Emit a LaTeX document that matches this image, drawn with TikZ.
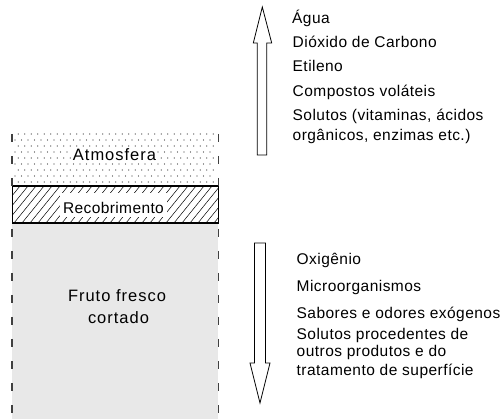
\documentclass[tikz,border=0pt]{standalone}
\usepackage{fontspec}
\setmainfont{Liberation Sans}
\begin{document}
\begin{tikzpicture}[x=1pt,y=-1pt,
  txt/.style={font=\fontsize{15.5}{18}\selectfont\addfontfeature{LetterSpace=3}, inner sep=0pt, anchor=base west},
  ctxt/.style={font=\fontsize{16.5}{19}\selectfont\addfontfeature{LetterSpace=6}, inner sep=0pt, anchor=base},
  rtxt/.style={font=\fontsize{15.5}{18}\selectfont\addfontfeature{LetterSpace=2.5}, inner sep=0pt, anchor=base},
  sideline/.style={draw=black!75, line width=1.2pt, dash pattern=on 8pt off 14pt},
  flowarrow/.style={draw=black, line width=0.8pt, fill=white}]
\useasboundingbox (0,0) rectangle (503,419);
% fruit region
\fill[black!9] (12,223) rectangle (218,419);
% atmosphere dots
\foreach \yy [count=\r] in {134,140,...,182} {
  \foreach \xx in {15,21.5,...,214} {
    \fill[black!80] ({\xx+mod(\r,2)*3.25},\yy) circle (0.6);
  }
}
% coating hatch
\begin{scope}
  \clip (12,186) rectangle (218,223);
  \foreach \xx in {-34,-26,...,222} {
    \draw[line width=0.5pt] (\xx,223) -- (\xx+30,186);
  }
\end{scope}
\draw[line width=0.8pt] (12,186) rectangle (218,223);
\draw[line width=2pt] (12,186) -- (218,186);
\draw[line width=2pt] (12,223) -- (218,223);
\fill[white] (60,193) rectangle (167,217);
% dashed side lines
\draw[sideline] (12,134) -- (12,186);
\draw[sideline] (218.5,134) -- (218.5,186);
\draw[sideline] (12,229) -- (12,419);
\draw[sideline] (218.5,229) -- (218.5,419);
% labels in the layers
\node[ctxt, fill=white, inner sep=0.6pt] (atm) at (114.5,161) {Atmosfera};
\node[rtxt] (rec) at (113.5,214) {Recobrimento};
\node[ctxt] (fruto1) at (117,301.7) {Fruto fresco};
\node[ctxt] (fruto2) at (118.5,323.3) {cortado};
% arrows
\draw[flowarrow] (257.3,155) -- (257.3,43) -- (253.3,43) -- (262.3,7) -- (271.7,43) -- (266.7,43) -- (266.7,155) -- cycle;
\draw[flowarrow] (254.5,243) -- (254.5,363) -- (250,363) -- (260,403) -- (270,363) -- (265.5,363) -- (265.5,243) -- cycle;
% outgoing list
\node[txt] (agua) at (292,23.5) {Água};
\node[txt] (co2) at (292.5,48) {Dióxido de Carbono};
\node[txt] (etil) at (292.5,72) {Etileno};
\node[txt] (volat) at (292.5,97) {Compostos voláteis};
\node[txt] (sol1) at (292.5,121) {Solutos (vitaminas, ácidos};
\node[txt] (sol2) at (292.5,140.5) {orgânicos, enzimas etc.)};
% incoming list
\node[txt] (oxi) at (296.5,264.3) {Oxigênio};
\node[txt] (micro) at (296.5,291.7) {Microorganismos};
\node[txt] (sab) at (296.5,318.3) {Sabores e odores exógenos};
\node[txt] (proc1) at (296.5,339.3) {Solutos procedentes de};
\node[txt] (proc2) at (296.5,356.7) {outros produtos e do};
\node[txt] (proc3) at (296.5,375) {tratamento de superfície};
\end{tikzpicture}
\end{document}
